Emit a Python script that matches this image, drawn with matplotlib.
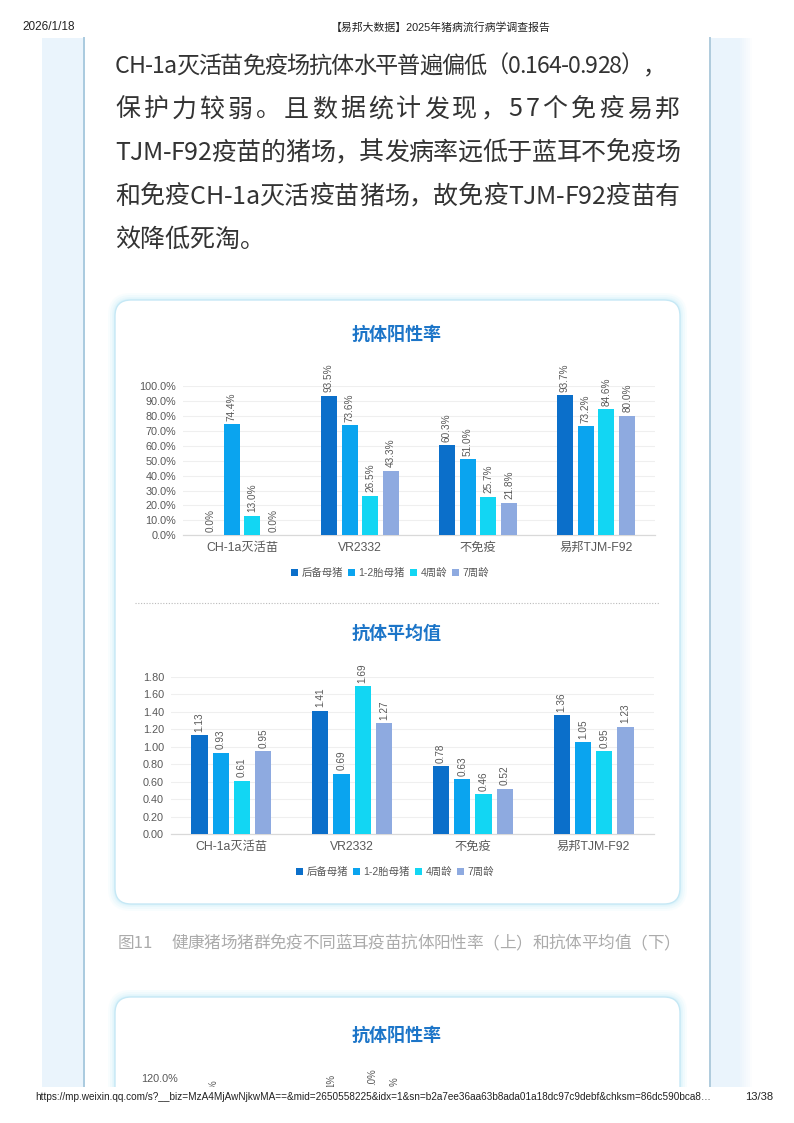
import matplotlib
matplotlib.use('Agg')
import matplotlib.pyplot as plt
from matplotlib.patches import Rectangle, FancyBboxPatch, Patch
from matplotlib.font_manager import FontProperties
import numpy as np

plt.rcParams['font.family'] = ['Noto Sans CJK SC', 'DejaVu Sans']

W, H = 794, 1123

# ---- data ----
categories = ['CH-1a灭活苗', 'VR2332', '不免疫', '易邦TJM-F92']
series_names = ['后备母猪', '1-2胎母猪', '4周龄', '7周龄']
colors = ['#0B6FCA', '#0AA4EF', '#12D6F3', '#8EAAE0']

# 抗体阳性率 (%)
rate_houbei = [0.0, 93.5, 60.3, 93.7]
rate_taimu = [74.4, 73.6, 51.0, 73.2]
rate_4w = [13.0, 26.5, 25.7, 84.6]
rate_7w = [0.0, 43.3, 21.8, 80.0]

# 抗体平均值
mean_houbei = [1.13, 1.41, 0.78, 1.36]
mean_taimu = [0.93, 0.69, 0.63, 1.05]
mean_4w = [0.61, 1.69, 0.46, 0.95]
mean_7w = [0.95, 1.27, 0.52, 1.23]

rate_ticks = list(range(0, 101, 10))
mean_ticks = [0.0, 0.2, 0.4, 0.6, 0.8, 1.0, 1.2, 1.4, 1.6, 1.8]

body_lines = [
    'CH-1a灭活苗免疫场抗体水平普遍偏低（0.164-0.928），',
    '保护力较弱。且数据统计发现，57个免疫易邦',
    'TJM-F92疫苗的猪场，其发病率远低于蓝耳不免疫场',
    '和免疫CH-1a灭活疫苗猪场，故免疫TJM-F92疫苗有',
    '效降低死淘。',
]
caption_head = '图11'
caption_text = '健康猪场猪群免疫不同蓝耳疫苗抗体阳性率（上）和抗体平均值（下）'

header_date = '2026/1/18'
header_title = '【易邦大数据】2025年猪病流行病学调查报告'
footer_url = ('https://mp.weixin.qq.com/s?__biz=MzA4MjAwNjkwMA==&mid=2650558225&idx=1'
              '&sn=b2a7ee36aa63b8ada01a18dc97c9debf&chksm=86dc590bca8…')
footer_page = '13/38'

# third chart cut off by the page bottom: only these bits show
next_tick = '120.0%'
next_bits = ['%', '1%', '.0%', '%']

LATIN = ['Liberation Sans', 'Noto Sans CJK SC']
NARROW = ['Liberation Sans Narrow', 'Liberation Sans', 'Noto Sans CJK SC']
GRAY = '#595959'
TITLE_BLUE = '#1C75C8'

fig = plt.figure(figsize=(W / 100, H / 100), dpi=100)
fig.patch.set_facecolor('white')

bg = fig.add_axes([0, 0, 1, 1])
bg.set_xlim(0, W)
bg.set_ylim(H, 0)
bg.axis('off')
bg.set_zorder(0)

# side strips
bg.add_patch(Rectangle((42, 38), 41, H - 38, color='#EAF4FC', lw=0, zorder=1))
bg.plot([83.5, 83.5], [38, H], color='#A9CADF', lw=1.4, zorder=1.5)
bg.add_patch(Rectangle((710, 38), 30, H - 38, color='#EAF4FC', lw=0, zorder=1))
for k in range(6):
    bg.add_patch(Rectangle((740 + k * 2, 38), 2, H - 38, color='#EAF4FC',
                           alpha=1 - (k + 1) / 7, lw=0, zorder=1))
bg.plot([710, 710], [38, H], color='#AFCBDD', lw=1.4, zorder=1.5)


def card(y0, y1):
    for pad, a in [(7, 0.12), (5, 0.18), (3, 0.25), (1.5, 0.35)]:
        bg.add_patch(FancyBboxPatch((115 - pad, y0 - pad), 565 + 2 * pad, y1 - y0 + 2 * pad,
                                    boxstyle='round,pad=0,rounding_size=%d' % (16 + pad),
                                    fc='#CDEFFA', ec='none', alpha=a, zorder=2))
    bg.add_patch(FancyBboxPatch((115, y0), 565, y1 - y0,
                                boxstyle='round,pad=0,rounding_size=16',
                                fc='white', ec='#C6E8F5', lw=1.0, zorder=3))


card(300, 904)
card(997, 1200)

renderer = fig.canvas.get_renderer()


def char_widths(s, fp):
    return [renderer.get_text_width_height_descent(c, fp, ismath=False)[0] for c in s]


def justify(s, x0, x1, y, fp, color, min_gap=-1.0):
    ws = char_widths(s, fp)
    room = x1 - x0 - (len(s) - 1) * min_gap
    if sum(ws) > room:
        # too long for the line: shrink the font a little instead of overlapping
        fp = fp.copy()
        fp.set_size(fp.get_size_in_points() * room / sum(ws))
        ws = char_widths(s, fp)
    extra = (x1 - x0 - sum(ws)) / (len(s) - 1)
    x = x0
    for c, w in zip(s, ws):
        bg.text(x, y, c, fontproperties=fp, color=color, ha='left', va='baseline', zorder=5)
        x += w + extra


body_fp = FontProperties(family=['Noto Sans CJK SC', 'DejaVu Sans'], size=18)
body_y = [73, 116.5, 160, 203.5, 247]
body_right = [666, 680, 680, 680]
for i, line in enumerate(body_lines):
    if i < 4:
        justify(line, 115, body_right[i], body_y[i], body_fp, '#333333')
    else:
        bg.text(115, body_y[i], line, fontproperties=body_fp, color='#333333',
                ha='left', va='baseline', zorder=5)

# chart titles
for ty, title in [(334, '抗体阳性率'), (633, '抗体平均值'), (1035, '抗体阳性率')]:
    bg.text(397, ty, title, fontsize=13, fontweight='bold', color=TITLE_BLUE,
            ha='center', va='center', zorder=5)

# dotted separator
bg.plot([135, 660], [603, 603], color='#BBBBBB', lw=0.8, ls=(0, (1, 1.5)), zorder=5)

# caption
cap_fp = FontProperties(family=['Noto Sans CJK SC', 'DejaVu Sans'], size=12)
bg.text(118, 948, caption_head, fontproperties=cap_fp, color='#ABABAB', ha='left',
        va='baseline', zorder=5)
justify(caption_text, 171, 680, 948, cap_fp, '#ABABAB')

# bottom partial chart
bg.text(178, 1079, next_tick, fontsize=7.8, family=LATIN, color=GRAY, ha='right',
        va='center', zorder=5)
for xx, yy, lab in zip([214, 331, 372, 395], [1080, 1074, 1068, 1077], next_bits):
    bg.text(xx, yy, lab, fontsize=7, family=LATIN, color=GRAY, rotation=90,
            ha='center', va='top', zorder=5)

# footer band & header/footer text
bg.add_patch(Rectangle((0, 1087), W, H - 1087, color='white', lw=0, zorder=10))
bg.text(22, 27, header_date, fontsize=8.5, family=NARROW, color='#222222', ha='left',
        va='center', zorder=11)
bg.text(441, 27, header_title, fontsize=7.8, family=NARROW, color='#222222', ha='center',
        va='center', zorder=11)
bg.text(35, 1097, footer_url, fontsize=7.2, family=NARROW, color='#222222', ha='left',
        va='center', zorder=11)
bg.text(773, 1097, footer_page, fontsize=8, family=NARROW, color='#222222', ha='right',
        va='center', zorder=11)


def bar_chart(rect, series, ticks, tick_fmt, val_fmt, ymax, legend_xy, tick_pad):
    ax = fig.add_axes(rect)
    ax.set_zorder(4)
    ax.set_facecolor('none')
    x = np.arange(len(categories))
    pitch, width = 0.176, 0.135
    for i, (vals, c) in enumerate(zip(series, colors)):
        xs = x + (i - 1.5) * pitch
        ax.bar(xs, vals, width=width, color=c, zorder=3, label=series_names[i])
        for xv, v in zip(xs, vals):
            ax.annotate(val_fmt.format(v), (xv, v), xytext=(0, 2.5), textcoords='offset points',
                        rotation=90, ha='center', va='bottom', fontsize=7.2, color=GRAY,
                        family=LATIN, annotation_clip=False)
    ax.set_xlim(-0.5, len(categories) - 0.5)
    ax.set_ylim(0, ymax)
    ax.set_yticks(ticks)
    ax.set_yticklabels([tick_fmt.format(t) for t in ticks], family=LATIN, fontsize=7.8,
                       color=GRAY)
    ax.set_xticks(x)
    ax.set_xticklabels(categories, fontsize=8.8, color=GRAY,
                       family=['Liberation Sans', 'Noto Sans CJK SC'])
    ax.tick_params(axis='y', length=0, pad=tick_pad)
    ax.tick_params(axis='x', length=0, pad=5)
    for s in ['top', 'right', 'left']:
        ax.spines[s].set_visible(False)
    ax.spines['bottom'].set_color('#D9D9D9')
    ax.spines['bottom'].set_linewidth(0.9)
    ax.yaxis.grid(True, color='#EFEFEF', lw=0.8)
    ax.set_axisbelow(True)
    handles = [Patch(facecolor=c, edgecolor='none') for c in colors]
    leg = ax.legend(handles, series_names, loc='center', bbox_to_anchor=legend_xy,
                    bbox_transform=bg.transData, ncol=4, frameon=False, fontsize=7.5,
                    handlelength=0.7, handleheight=0.7, handletextpad=0.3,
                    columnspacing=0.5, borderpad=0)
    for t in leg.get_texts():
        t.set_color(GRAY)
        t.set_family(['Liberation Sans', 'Noto Sans CJK SC'])
    return ax


bar_chart([183 / W, 1 - 535.3 / H, (655 - 183) / W, (535.3 - 386) / H],
          [rate_houbei, rate_taimu, rate_4w, rate_7w], rate_ticks, '{:.1f}%', '{:.1f}%',
          100, (390, 573), 5)
bar_chart([171 / W, 1 - 834.3 / H, (654 - 171) / W, (834.3 - 676.7) / H],
          [mean_houbei, mean_taimu, mean_4w, mean_7w], mean_ticks, '{:.2f}', '{:.2f}',
          1.8, (395, 872), 5)

fig.savefig('out.png', dpi=100, facecolor='white')
